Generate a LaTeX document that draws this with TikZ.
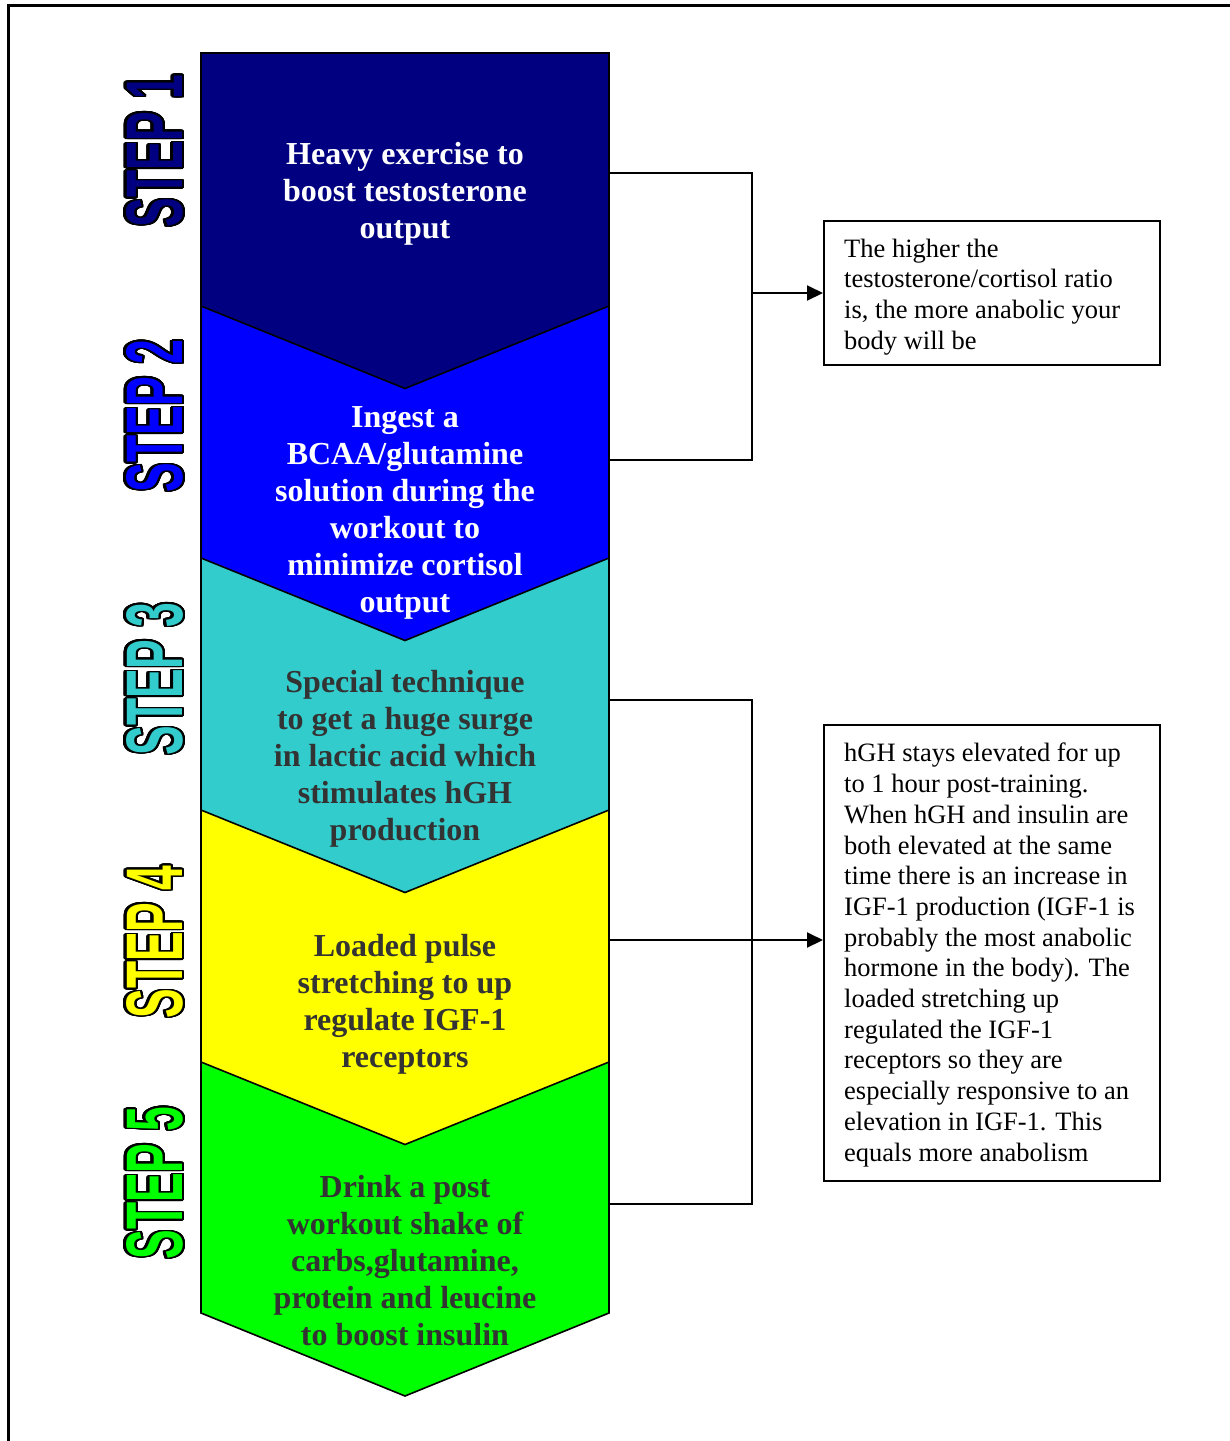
\documentclass[tikz,border=0pt]{standalone}
\usepackage{fontspec}
\setmainfont{Liberation Serif}
\newfontfamily\labelfont{Liberation Sans}
\usepackage{contour}
\usetikzlibrary{arrows.meta}

\definecolor{stepnavy}{HTML}{000080}
\definecolor{stepblue}{HTML}{0000FF}
\definecolor{stepteal}{HTML}{33CCCC}
\definecolor{stepyellow}{HTML}{FFFF00}
\definecolor{stepgreen}{HTML}{00FF00}
\definecolor{darktext}{HTML}{333333}

\contourlength{2.6pt}
\contournumber{32}

% outlined, condensed step label
\newcommand{\steplabel}[2]{%
  \resizebox{153pt}{56pt}{\labelfont\bfseries\fontsize{78}{80}\selectfont
    \contour{black}{\textcolor{#1}{#2}}}}

\tikzset{
  chevron/.style={draw=black, line width=1.6pt, line join=miter},
  steptext/.style={align=center, inner sep=0pt,
    font=\bfseries\fontsize{32}{37}\selectfont},
  notebox/.style={draw=black, line width=2pt, minimum width=336pt, inner sep=0pt},
  notetext/.style={align=left, anchor=west, inner sep=0pt,
    font=\fontsize{26.5}{30.7}\selectfont},
  link/.style={draw=black, line width=2pt},
  linkarrow/.style={link, -{Triangle[length=16pt,width=15pt]}},
  stepname/.style={rotate=90, inner sep=0pt}
}

\begin{document}
\begin{tikzpicture}[x=1pt,y=-1pt]
\useasboundingbox (0,0) rectangle (1230,1441);

% page frame (top and left edges only)
\draw[line width=3pt] (8,1441) -- (8,5) -- (1230,5);

% chevron column
\fill[stepnavy]  (201,53) -- (609,53) -- (609,306) -- (405,388.5) -- (201,306) -- cycle;
\fill[stepblue]  (201,306) -- (405,388.5) -- (609,306) -- (609,558) -- (405,640.5) -- (201,558) -- cycle;
\fill[stepteal]  (201,558) -- (405,640.5) -- (609,558) -- (609,810) -- (405,892.5) -- (201,810) -- cycle;
\fill[stepyellow](201,810) -- (405,892.5) -- (609,810) -- (609,1062) -- (405,1144.5) -- (201,1062) -- cycle;
\fill[stepgreen] (201,1062) -- (405,1144.5) -- (609,1062) -- (609,1313) -- (405,1396) -- (201,1313) -- cycle;
\draw[chevron] (201,53) -- (609,53) -- (609,1313) -- (405,1396) -- (201,1313) -- cycle;
\draw[chevron] (201,306) -- (405,388.5) -- (609,306);
\draw[chevron] (201,558) -- (405,640.5) -- (609,558);
\draw[chevron] (201,810) -- (405,892.5) -- (609,810);
\draw[chevron] (201,1062) -- (405,1144.5) -- (609,1062);

% step texts
\node[steptext, text=white] (s1) at (405,194)
  {Heavy exercise to\\boost testosterone\\output};
\node[steptext, text=white] (s2) at (405,513)
  {Ingest a\\BCAA/glutamine\\solution during the\\workout to\\minimize cortisol\\output};
\node[steptext, text=darktext] (s3) at (405,759)
  {Special technique\\to get a huge surge\\in lactic acid which\\stimulates hGH\\production};
\node[steptext, text=darktext] (s4) at (405,1004)
  {Loaded pulse\\stretching to up\\regulate IGF-1\\receptors};
\node[steptext, text=darktext] (s5) at (405,1261)
  {Drink a post\\workout shake of\\carbs,glutamine,\\protein and leucine\\to boost insulin};

% step names
\node[stepname] (n1) at (156,151)  {\steplabel{stepnavy}{STEP 1}};
\node[stepname] (n2) at (156,416)  {\steplabel{stepblue}{STEP 2}};
\node[stepname] (n3) at (156,679)  {\steplabel{stepteal}{STEP 3}};
\node[stepname] (n4) at (156,942)  {\steplabel{stepyellow}{STEP 4}};
\node[stepname] (n5) at (156,1183) {\steplabel{stepgreen}{STEP 5}};

% note boxes
\node[notebox, minimum height=144pt] (box1) at (992,293) {};
\node[notetext] (t1) at (844,297)
  {The higher the\\testosterone/cortisol ratio\\is, the more anabolic your\\body will be};
\node[notebox, minimum height=456pt] (box2) at (992,953) {};
\node[notetext] (t2) at (844,955)
  {hGH stays elevated for up\\to 1 hour post-training.\\When hGH and insulin are\\both elevated at the same\\time there is an increase in\\IGF-1 production (IGF-1 is\\probably the most anabolic\\hormone in the body). The\\loaded stretching up\\regulated the IGF-1\\receptors so they are\\especially responsive to an\\elevation in IGF-1. This\\equals more anabolism};

% connector end points on the chevron column
\coordinate (e1) at (609,173);
\coordinate (e2) at (609,460);
\coordinate (j1) at (752,293);
\coordinate (e3) at (609,700);
\coordinate (e4) at (609,940);
\coordinate (e5) at (609,1204);
\coordinate (j2) at (752,940);

% bracket to the first note
\draw[link] (e1) -| (j1) |- (e2);
\draw[linkarrow] (j1) -- (box1.west);

% bracket to the second note
\draw[link] (e3) -| (j2) |- (e5);
\draw[linkarrow] (e4) -- (e4 -| box2.west);
\end{tikzpicture}
\end{document}
